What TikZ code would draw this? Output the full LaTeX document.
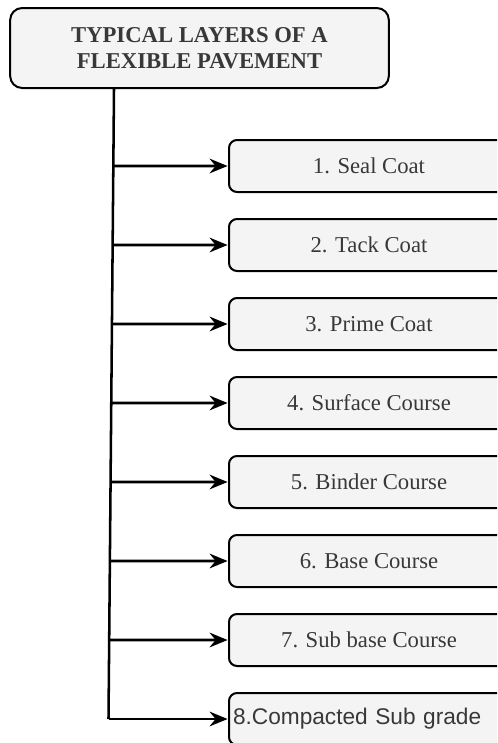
\documentclass[tikz,border=0pt]{standalone}
\usepackage{fontspec}
\setmainfont{Liberation Serif}
\newfontfamily\arialf{Liberation Sans}
\usetikzlibrary{arrows.meta,calc}
\definecolor{boxfill}{HTML}{F4F4F4}
\definecolor{txtgray}{HTML}{383838}
\tikzset{
  titlebox/.style={draw=black, line width=1.5pt, fill=boxfill, rounded corners=9pt,
    minimum width=284pt, minimum height=60pt, align=center, text=txtgray,
    font=\fontsize{17}{19}\selectfont\bfseries},
  layerbox/.style={draw=black, line width=1.5pt, fill=boxfill, rounded corners=6pt,
    minimum width=210pt, minimum height=39pt, anchor=west, text=txtgray,
    font=\fontsize{17}{20}\selectfont},
  trunk/.style={line width=1.9pt, draw=black},
  branch/.style={line width=1.9pt, draw=black,
    -{Stealth[length=13.5pt, width=11pt, inset=4.5pt]}, shorten >=0.3pt}
}
\begin{document}
\begin{tikzpicture}[x=0.75pt, y=-0.75pt]
  \path[use as bounding box, clip] (0,0) rectangle (497,743);

  % heading
  \node[titlebox] (title) at (199.5,48) {TYPICAL LAYERS OF A\\FLEXIBLE PAVEMENT};

  % the eight layers
  \node[layerbox] (l1) at (228,166) {1. Seal Coat};
  \node[layerbox] (l2) at (228,245) {2. Tack Coat};
  \node[layerbox] (l3) at (228,324) {3. Prime Coat};
  \node[layerbox] (l4) at (228,403) {4. Surface Course};
  \node[layerbox] (l5) at (228,482) {5. Binder Course};
  \node[layerbox] (l6) at (228,561) {6. Base Course};
  \node[layerbox] (l7) at (228,640) {7. Sub base Course};
  \node[layerbox, text width=204pt, inner xsep=3pt, align=left] (l8) at (228,719)
    {\arialf 8.Compacted Sub grade};

  % vertical trunk
  \coordinate (tt) at (114,88);
  \coordinate (tb) at (108.5,719);
  \draw[trunk] (title.south -| tt) -- (tb);

  % branches into each layer
  \draw[branch] ($(tt)!0.1236!(tb)$) -- (l1.west);
  \draw[branch] ($(tt)!0.2488!(tb)$) -- (l2.west);
  \draw[branch] ($(tt)!0.3740!(tb)$) -- (l3.west);
  \draw[branch] ($(tt)!0.4992!(tb)$) -- (l4.west);
  \draw[branch] ($(tt)!0.6244!(tb)$) -- (l5.west);
  \draw[branch] ($(tt)!0.7496!(tb)$) -- (l6.west);
  \draw[branch] ($(tt)!0.8748!(tb)$) -- (l7.west);
  \draw[branch] (tb) -- (l8.west);
\end{tikzpicture}
\end{document}
